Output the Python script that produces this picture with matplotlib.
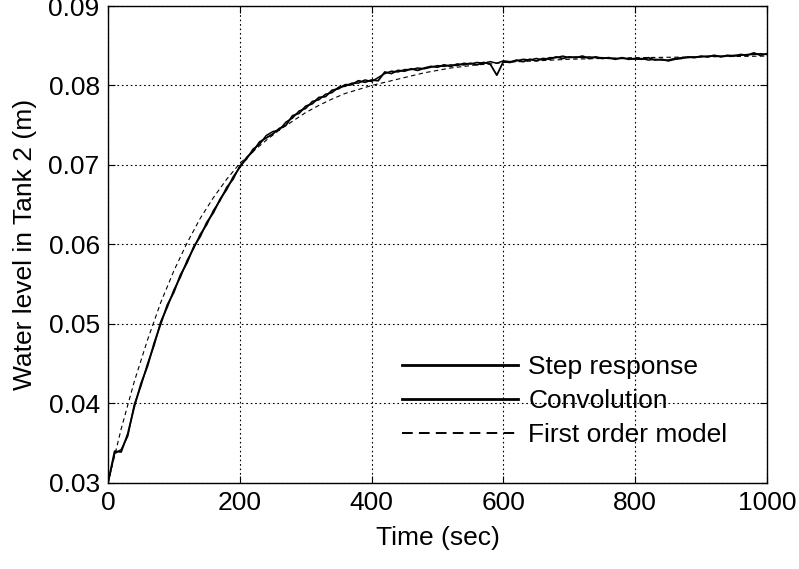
import numpy as np
import matplotlib
matplotlib.use("Agg")
import matplotlib.pyplot as plt

plt.rcParams['font.family'] = ['Liberation Sans', 'DejaVu Sans']

# measured step response and convolution result, sampled every 10 s
t_meas = np.arange(0, 1001, 10)
step_resp = [
    0.0300, 0.0340, 0.0339, 0.0362, 0.0396, 0.0425, 0.0447, 0.0476, 0.0500, 0.0524,
    0.0540, 0.0562, 0.0577, 0.0597, 0.0610, 0.0628, 0.0640, 0.0657, 0.0669, 0.0685,
    0.0697, 0.0709, 0.0717, 0.0729, 0.0734, 0.0739, 0.0746, 0.0750, 0.0762, 0.0765,
    0.0774, 0.0777, 0.0785, 0.0786, 0.0794, 0.0796, 0.0801, 0.0801, 0.0806, 0.0804,
    0.0807, 0.0806, 0.0817, 0.0815, 0.0819, 0.0818, 0.0821, 0.0819, 0.0822, 0.0824,
    0.0823, 0.0826, 0.0824, 0.0827, 0.0826, 0.0828, 0.0826, 0.0829, 0.0827, 0.0813,
    0.0830, 0.0829, 0.0832, 0.0830, 0.0833, 0.0831, 0.0834, 0.0833, 0.0836, 0.0834,
    0.0836, 0.0835, 0.0837, 0.0834, 0.0836, 0.0834, 0.0835, 0.0833, 0.0835, 0.0833,
    0.0834, 0.0833, 0.0835, 0.0832, 0.0833, 0.0831, 0.0833, 0.0834, 0.0836, 0.0835,
    0.0837, 0.0836, 0.0838, 0.0836, 0.0838, 0.0837, 0.0839, 0.0838, 0.0841, 0.0838,
    0.0840]
convolution = [
    0.0300, 0.0337, 0.0342, 0.0359, 0.0399, 0.0422, 0.0450, 0.0473, 0.0503, 0.0521,
    0.0543, 0.0559, 0.0580, 0.0595, 0.0613, 0.0625, 0.0643, 0.0655, 0.0672, 0.0682,
    0.0699, 0.0707, 0.0720, 0.0726, 0.0737, 0.0742, 0.0744, 0.0754, 0.0759, 0.0768,
    0.0771, 0.0780, 0.0782, 0.0789, 0.0791, 0.0798, 0.0799, 0.0803, 0.0803, 0.0807,
    0.0805, 0.0810, 0.0815, 0.0818, 0.0817, 0.0820, 0.0820, 0.0822, 0.0821, 0.0823,
    0.0825, 0.0824, 0.0826, 0.0825, 0.0828, 0.0827, 0.0829, 0.0828, 0.0830, 0.0828,
    0.0831, 0.0830, 0.0831, 0.0833, 0.0832, 0.0834, 0.0832, 0.0835, 0.0835, 0.0837,
    0.0835, 0.0836, 0.0835, 0.0836, 0.0835, 0.0835, 0.0834, 0.0834, 0.0834, 0.0834,
    0.0833, 0.0834, 0.0832, 0.0833, 0.0832, 0.0832, 0.0834, 0.0835, 0.0835, 0.0836,
    0.0836, 0.0837, 0.0837, 0.0837, 0.0837, 0.0838, 0.0838, 0.0839, 0.0839, 0.0840,
    0.0839]

# first order model
t_model = [0, 20, 40, 60, 80, 100, 120, 140, 160, 180, 200, 220, 240, 260, 280,
           300, 320, 340, 360, 380, 400, 420, 440, 460, 480, 500, 520, 540, 560,
           580, 600, 650, 700, 750, 800, 900, 1000]
model = [0.0300, 0.0368, 0.0428, 0.0480, 0.0527, 0.0567, 0.0602, 0.0633, 0.0659,
         0.0682, 0.0702, 0.0717, 0.0731, 0.0744, 0.0755, 0.0766, 0.0775, 0.0783,
         0.0790, 0.0795, 0.0800, 0.0804, 0.0808, 0.0812, 0.0816, 0.0819, 0.0822,
         0.0824, 0.0826, 0.0827, 0.0829, 0.0831, 0.0833, 0.0834, 0.0835, 0.0836,
         0.0837]

fig = plt.figure(figsize=(7.99, 5.69), dpi=100)
ax = fig.add_axes([108 / 799, 1 - 483 / 569, (767 - 108) / 799, (483 - 6) / 569])

ax.plot(t_meas, step_resp, color='black', lw=1.3, label='Step response')
ax.plot(t_meas, convolution, color='black', lw=1.1, label='Convolution')
ax.plot(t_model, model, color='black', lw=0.8, linestyle=(0, (4, 3)),
        label='First order model')

ax.set_xlim(0, 1000)
ax.set_ylim(0.03, 0.09)
ax.set_xticks([0, 200, 400, 600, 800, 1000])
ax.set_yticks([0.03, 0.04, 0.05, 0.06, 0.07, 0.08, 0.09])
ax.set_yticklabels(['0.03', '0.04', '0.05', '0.06', '0.07', '0.08', '0.09'])
ax.grid(True, color='black', linestyle=(0, (1.5, 2.5)), linewidth=0.8)
ax.tick_params(direction='in', length=5, width=0.8, top=True, right=True,
               labelsize=19, pad=6)
for sp in ax.spines.values():
    sp.set_linewidth(1.0)

ax.set_xlabel('Time (sec)', fontsize=19, labelpad=8)
ax.set_ylabel('Water level in Tank 2 (m)', fontsize=19, labelpad=8)

leg = ax.legend(loc='lower right', bbox_to_anchor=(0.976, 0.025), frameon=False,
                fontsize=19, handlelength=4.4, handletextpad=0.4,
                labelspacing=0.38)
for h in leg.get_lines():
    h.set_linewidth(2.0)
leg.get_lines()[2].set_linewidth(1.4)
leg.get_lines()[2].set_linestyle((0, (5.5, 3.2)))

fig.savefig('out.png', dpi=100)
